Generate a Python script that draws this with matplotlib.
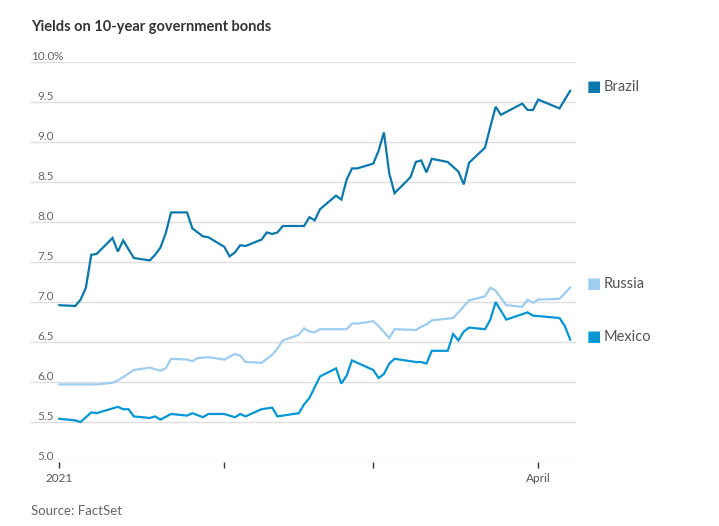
import matplotlib
matplotlib.use('Agg')
from matplotlib import pyplot as plt
import matplotlib.dates as mdates
import numpy as np

plt.rcParams['font.family'] = ['Lato', 'DejaVu Sans']

# 数据：每个序列自己的日期（2021年）和收益率
brazil_dates = ['01-01', '01-04', '01-05', '01-06', '01-07', '01-08', '01-11', '01-12',
                '01-13', '01-15', '01-18', '01-19', '01-20', '01-21', '01-22', '01-25',
                '01-26', '01-28', '01-29', '02-01', '02-02', '02-03', '02-04', '02-05',
                '02-08', '02-09', '02-10', '02-11', '02-12', '02-16', '02-17', '02-18',
                '02-19', '02-22', '02-23', '02-24', '02-25', '02-26', '03-01', '03-02',
                '03-03', '03-04', '03-05', '03-08', '03-09', '03-10', '03-11', '03-12',
                '03-15', '03-17', '03-18', '03-19', '03-22', '03-23', '03-24', '03-25',
                '03-29', '03-30', '03-31', '04-01', '04-05', '04-07']
brazil = [6.96, 6.95, 7.03, 7.18, 7.59, 7.60, 7.80, 7.63,
          7.77, 7.55, 7.52, 7.59, 7.68, 7.86, 8.12, 8.12,
          7.92, 7.82, 7.81, 7.69, 7.57, 7.62, 7.71, 7.70,
          7.78, 7.87, 7.85, 7.87, 7.95, 7.95, 8.06, 8.02,
          8.16, 8.33, 8.28, 8.53, 8.67, 8.67, 8.73, 8.89,
          9.12, 8.61, 8.36, 8.56, 8.75, 8.77, 8.62, 8.79,
          8.75, 8.63, 8.47, 8.74, 8.93, 9.19, 9.44, 9.34,
          9.48, 9.40, 9.40, 9.53, 9.42, 9.64]

russia_dates = ['01-01', '01-08', '01-11', '01-12', '01-13', '01-15', '01-18', '01-20',
                '01-21', '01-22', '01-25', '01-26', '01-27', '01-29', '02-01', '02-03',
                '02-04', '02-05', '02-08', '02-10', '02-11', '02-12', '02-15', '02-16',
                '02-17', '02-18', '02-19', '02-24', '02-25', '02-26', '03-01', '03-02',
                '03-04', '03-05', '03-09', '03-10', '03-11', '03-12', '03-16', '03-17',
                '03-19', '03-22', '03-23', '03-24', '03-26', '03-29', '03-30', '03-31',
                '04-01', '04-05', '04-07']
russia = [5.97, 5.97, 5.99, 6.02, 6.06, 6.15, 6.18, 6.14,
          6.17, 6.29, 6.28, 6.26, 6.30, 6.31, 6.28, 6.35,
          6.33, 6.25, 6.24, 6.34, 6.42, 6.52, 6.59, 6.67,
          6.63, 6.62, 6.66, 6.66, 6.73, 6.73, 6.76, 6.70,
          6.55, 6.66, 6.65, 6.69, 6.72, 6.77, 6.80, 6.87,
          7.02, 7.07, 7.18, 7.14, 6.96, 6.94, 7.03, 6.99,
          7.03, 7.04, 7.18]

mexico_dates = ['01-01', '01-04', '01-05', '01-07', '01-08', '01-12', '01-13', '01-14',
                '01-15', '01-18', '01-19', '01-20', '01-22', '01-25', '01-26', '01-28',
                '01-29', '02-01', '02-03', '02-04', '02-05', '02-08', '02-10', '02-11',
                '02-12', '02-15', '02-16', '02-17', '02-19', '02-22', '02-23', '02-24',
                '02-25', '03-01', '03-02', '03-03', '03-04', '03-05', '03-09', '03-10',
                '03-11', '03-12', '03-15', '03-16', '03-17', '03-18', '03-19', '03-22',
                '03-23', '03-24', '03-26', '03-30', '03-31', '04-05', '04-06', '04-07']
mexico = [5.54, 5.52, 5.50, 5.62, 5.61, 5.69, 5.66, 5.66,
          5.57, 5.55, 5.57, 5.53, 5.60, 5.58, 5.61, 5.56,
          5.60, 5.60, 5.56, 5.60, 5.57, 5.66, 5.68, 5.57,
          5.58, 5.61, 5.72, 5.80, 6.07, 6.17, 5.98, 6.08,
          6.27, 6.15, 6.05, 6.10, 6.23, 6.29, 6.25, 6.25,
          6.23, 6.39, 6.39, 6.60, 6.52, 6.63, 6.68, 6.66,
          6.78, 7.00, 6.78, 6.87, 6.83, 6.80, 6.70, 6.53]

series = [('Brazil', brazil_dates, brazil, '#0b78ad'),
          ('Russia', russia_dates, russia, '#9dcdf0'),
          ('Mexico', mexico_dates, mexico, '#0596d6')]

y_ticks = [5.0, 5.5, 6.0, 6.5, 7.0, 7.5, 8.0, 8.5, 9.0, 9.5, 10.0]
month_ticks = ['2021-01-01', '2021-02-01', '2021-03-01', '2021-04-01']
month_labels = ['2021', '', '', 'April']


def to_num(md):
    return mdates.date2num(np.datetime64('2021-' + md))


fig = plt.figure(figsize=(7.19, 5.26), dpi=100)
ax = fig.add_axes([31 / 719, 1 - 462 / 526, 545 / 719, 400 / 526])

jan1 = mdates.date2num(np.datetime64('2021-01-01'))
ax.set_xlim(jan1 - 5.32, jan1 + 97.1)
ax.set_ylim(5.0, 10.0)

# 网格线
for v in y_ticks:
    ax.axhline(v, color='#dedede', lw=1, zorder=0)
    lab = '%.1f' % v
    ax.text(23 / 545, v, lab, transform=ax.get_yaxis_transform(),
            ha='right', va='bottom', fontsize=8.5, color='#666666')
ax.text(23 / 545, 10.0, '%', transform=ax.get_yaxis_transform(),
        ha='left', va='bottom', fontsize=8.5, color='#666666')

for name, d, vals, col in series:
    x = [to_num(s) for s in d]
    ax.plot(x, vals, color=col, lw=1.6, solid_joinstyle='miter', zorder=3)

for s in ax.spines.values():
    s.set_visible(False)
ax.set_yticks([])
ax.set_xticks([mdates.date2num(np.datetime64(t)) for t in month_ticks])
ax.set_xticklabels(month_labels)
ax.tick_params(axis='x', length=4, width=1, color='#333333', labelsize=8.5,
               labelcolor='#555555', pad=4)

# 图例（右侧方块）
legend_y = {'Brazil': 9.69, 'Russia': 7.22, 'Mexico': 6.56}
for name, d, vals, col in series:
    yv = legend_y[name]
    ax.text(1.02, yv, '\u25A0', transform=ax.get_yaxis_transform(), ha='left',
            va='center', fontsize=11, color=col)
    ax.text(1.05, yv, name, transform=ax.get_yaxis_transform(), ha='left',
            va='center', fontsize=10.5, color='#555555')

fig.text(31 / 719, 1 - 27 / 526, 'Yields on 10-year government bonds', ha='left',
         va='center', fontsize=10.5, fontweight='bold', color='#333333')
fig.text(31 / 719, 1 - 511 / 526, 'Source: FactSet', ha='left', va='center',
         fontsize=9.5, color='#666666')

fig.savefig('out.png', dpi=100)
